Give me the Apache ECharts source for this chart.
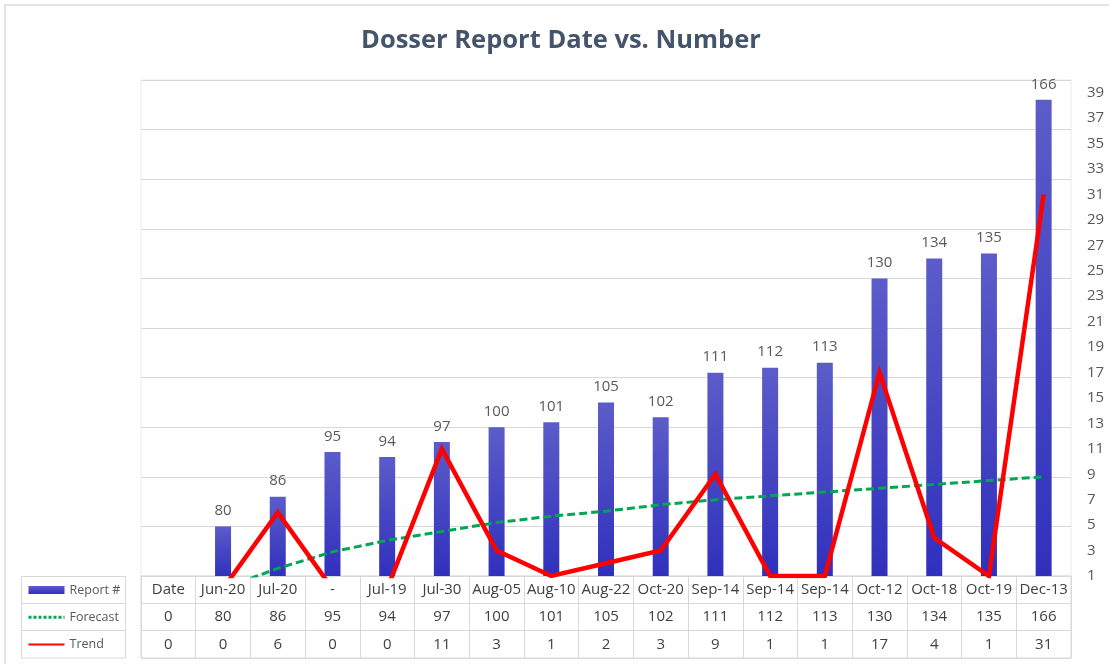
<!DOCTYPE html>
<html>
<head>
<meta charset="utf-8">
<script src="https://cdn.jsdelivr.net/npm/echarts@6/dist/echarts.min.js"></script>
<style>
  html, body { margin: 0; padding: 0; background: #fff; }
  #chart { width: 1109px; height: 664px; }
</style>
</head>
<body>
<div id="chart"></div>
<script>
// Report dates (one column per report) and the values shown in the data table
const categories = ['Date', 'Jun-20', 'Jul-20', '-', 'Jul-19', 'Jul-30', 'Aug-05', 'Aug-10', 'Aug-22',
  'Oct-20', 'Sep-14', 'Sep-14', 'Sep-14', 'Oct-12', 'Oct-18', 'Oct-19', 'Dec-13'];
const reportNums = [0, 80, 86, 95, 94, 97, 100, 101, 105, 102, 111, 112, 113, 130, 134, 135, 166];
const trendVals = [0, 0, 6, 0, 0, 11, 3, 1, 2, 3, 9, 1, 1, 17, 4, 1, 31];
const forecastVals = [-3, 0, 1.6, 2.9, 3.8, 4.5, 5.2, 5.7, 6.1, 6.6, 7.0, 7.3, 7.6, 7.9, 8.2, 8.5, 8.8];
const tableRowIds = ['dates', 'reports', 'trend'];

const FONT = 'Open Sans';
const TEXT = '#404040';
const GRID_LINE = '#d9d9d9';

// Table cells: [column, row, text]
const tableRows = [categories, reportNums, trendVals];
const cells = [];
tableRows.forEach((row, r) => row.forEach((v, c) => cells.push([c, r, String(v)])));

const chart = echarts.init(document.getElementById('chart'));

// Plot area: top 80, bottom 576; table: 576 .. 658
const plotLeft = 141, plotWidth = 930;

chart.setOption({
  animation: false,
  backgroundColor: '#fff',
  title: {
    text: 'Dosser Report Date vs. Number',
    left: 361, top: 28, padding: 0,
    textStyle: { fontFamily: FONT, fontWeight: 'bold', fontSize: 25.5, color: '#44546A' }
  },
  legend: {
    orient: 'vertical',
    left: 27, top: 582, padding: 0,
    itemWidth: 36, itemHeight: 8, itemGap: 11.3,
    selectedMode: false,
    textStyle: { fontFamily: FONT, fontSize: 12.5, color: '#595959', lineHeight: 16 },
    data: [
      { name: 'Report #', icon: 'rect' },
      { name: 'Forecast', lineStyle: { type: [3, 2], width: 3 }, itemStyle: { opacity: 0 } },
      { name: 'Trend', itemStyle: { opacity: 0 } }
    ]
  },
  grid: [
    { left: plotLeft, top: 80, width: plotWidth, height: 496,
      show: true, borderColor: '#ececec', borderWidth: 1, containLabel: false },
    { left: plotLeft, top: 576, width: plotWidth, height: 82,
      show: true, borderColor: GRID_LINE, borderWidth: 1, containLabel: false }
  ],
  xAxis: [
    { type: 'category', gridIndex: 0, data: categories, boundaryGap: true,
      axisLine: { show: false }, axisTick: { show: false }, axisLabel: { show: false },
      splitLine: { show: false } },
    { type: 'category', gridIndex: 1, data: categories, boundaryGap: true,
      axisLine: { show: false }, axisTick: { show: false },
      axisLabel: { show: false, interval: 0 },
      splitLine: { show: true, interval: 0, lineStyle: { color: GRID_LINE, width: 1 } } }
  ],
  yAxis: [
    { type: 'value', gridIndex: 0, min: 70, max: 170, interval: 10,
      axisLine: { show: false }, axisTick: { show: false }, axisLabel: { show: false },
      splitLine: { show: true, lineStyle: { color: GRID_LINE, width: 1 } } },
    { type: 'value', gridIndex: 0, position: 'right', min: 1, max: 40, interval: 2,
      axisLine: { show: false }, axisTick: { show: false },
      axisLabel: { margin: 16, fontFamily: FONT, fontSize: 15, color: '#595959',
        showMaxLabel: false, formatter: v => (v === 40 ? '' : String(v)) },
      splitLine: { show: false } },
    { type: 'category', gridIndex: 1, data: tableRowIds, inverse: true, boundaryGap: true,
      axisLine: { show: false }, axisTick: { show: false }, axisLabel: { show: false },
      splitLine: { show: true, interval: 0, lineStyle: { color: GRID_LINE, width: 1 } } }
  ],
  series: [
    {
      name: 'Report #', type: 'bar', xAxisIndex: 0, yAxisIndex: 0,
      data: reportNums, barWidth: 16, clip: true,
      itemStyle: {
        color: new echarts.graphic.LinearGradient(0, 0, 0, 1, [
          { offset: 0, color: '#5c5cc9' },
          { offset: 1, color: '#3030bd' }
        ])
      },
      label: {
        show: true, position: 'top', distance: 8,
        fontFamily: FONT, fontSize: 15, color: '#595959',
        formatter: p => (p.value > 70 ? String(p.value) : '')
      },
      z: 2
    },
    {
      name: 'Forecast', type: 'line', xAxisIndex: 0, yAxisIndex: 1,
      data: forecastVals, symbol: 'none', clip: true,
      lineStyle: { color: '#00A651', width: 3, type: [8, 4] },
      itemStyle: { color: '#00A651' },
      z: 3
    },
    {
      name: 'Trend', type: 'line', xAxisIndex: 0, yAxisIndex: 1,
      data: trendVals, symbol: 'none', clip: true,
      lineStyle: { color: '#ff0000', width: 4.5, join: 'miter' },
      itemStyle: { color: '#ff0000' },
      z: 4
    },
    {
      // Data table text below the plot
      name: 'table', type: 'custom', xAxisIndex: 1, yAxisIndex: 2,
      data: cells.map(c => [c[0], c[1]]),
      silent: true,
      renderItem: (params, api) => {
        const pt = api.coord([api.value(0), api.value(1)]);
        return {
          type: 'text',
          x: pt[0], y: pt[1],
          style: {
            text: cells[params.dataIndex][2],
            fontFamily: FONT, fontSize: 15, fill: TEXT,
            align: 'center', verticalAlign: 'middle'
          }
        };
      }
    }
  ],
  graphic: [
    // outer chart frame
    { type: 'rect', shape: { x: 5, y: 5, width: 1120, height: 680 },
      style: { fill: 'none', stroke: '#dcdcdc', lineWidth: 1.5 }, silent: true, z: -1 },
    // legend key column
    { type: 'rect', shape: { x: 21.5, y: 576.5, width: 104, height: 81.5 },
      style: { fill: 'none', stroke: GRID_LINE, lineWidth: 1 }, silent: true },
    { type: 'line', shape: { x1: 21.5, y1: 603.5, x2: 125.5, y2: 603.5 },
      style: { stroke: GRID_LINE, lineWidth: 1 }, silent: true },
    { type: 'line', shape: { x1: 21.5, y1: 630.5, x2: 125.5, y2: 630.5 },
      style: { stroke: GRID_LINE, lineWidth: 1 }, silent: true }
  ]
});
</script>
</body>
</html>
